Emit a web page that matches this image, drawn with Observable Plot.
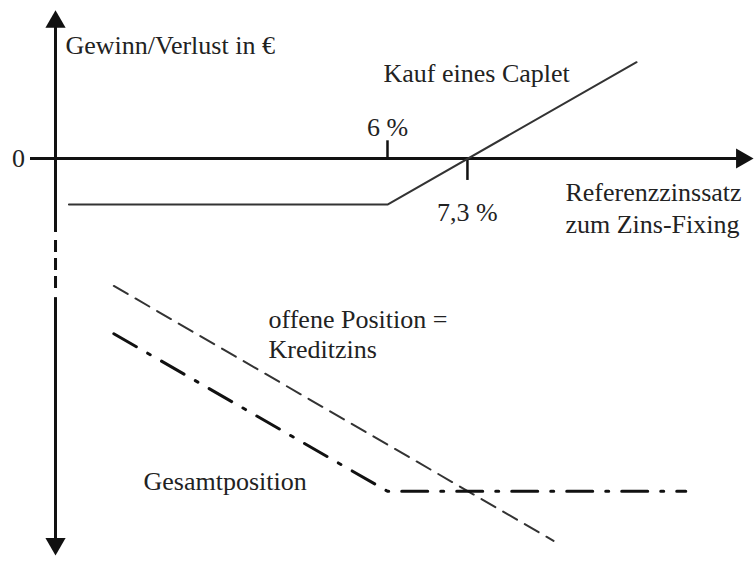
<!DOCTYPE html>
<html>
<head>
<meta charset="utf-8">
<script src="https://cdn.jsdelivr.net/npm/d3@7"></script>
<script src="https://cdn.jsdelivr.net/npm/@observablehq/plot@0.6"></script>
<style>
  html, body { margin: 0; padding: 0; background: #fff; }
</style>
</head>
<body>
<div id="chart"></div>
<script>
// ---- Data (rate in %, value in schematic € units) ----
const capletRates = [0.82, 6, 10.05];
const capletValues = [-1.3, -1.3, 2.72];

const openRates = [1.55, 8.7];
const openValues = [-3.6, -10.8];

const totalRates = [1.55, 6, 10.85];
const totalValues = [-4.95, -9.4, -9.4];

const strikeRate = 6;        // "6 %"
const breakEvenRate = 7.3;   // "7,3 %"
const tickLabels = ["6 %", "7,3 %"];

// axis extents and break
const xAxisRange = [0.195, 11.95];
const yAxisRange = [4.18, -11.21];
const yAxisX = 0.602;
const axisBreak = [-2.09, -3.93];

const caplet = capletRates.map((r, i) => ({r, v: capletValues[i]}));
const openPos = openRates.map((r, i) => ({r, v: openValues[i]}));
const total = totalRates.map((r, i) => ({r, v: totalValues[i]}));

const font = "'Liberation Serif', 'Times New Roman', serif";
const fs = 26;
const ink = "#222";

const chart = Plot.plot({
  width: 755,
  height: 566,
  margin: 0,
  style: {fontFamily: font, fontSize: fs + "px", background: "#fff"},
  x: {domain: [-0.2927, 11.984], axis: null},
  y: {domain: [-11.525, 4.463], axis: null},
  marks: [
    // horizontal axis
    Plot.ruleY([0], {x1: xAxisRange[0], x2: xAxisRange[1] - 0.12, stroke: "#111", strokeWidth: 3}),
    Plot.dot([{r: xAxisRange[1], v: 0}], {x: "r", y: "v", symbol: "triangle", r: 7.5, rotate: 90, dx: -11.5, fill: "#111", stroke: "none"}),
    // vertical axis (solid - break - solid)
    Plot.ruleX([yAxisX], {y1: yAxisRange[0] - 0.3, y2: axisBreak[0], stroke: "#111", strokeWidth: 3}),
    Plot.ruleX([yAxisX], {y1: axisBreak[0], y2: axisBreak[1], stroke: "#111", strokeWidth: 3, strokeDasharray: "0 8 12 6 12 6 12 9"}),
    Plot.ruleX([yAxisX], {y1: axisBreak[1], y2: yAxisRange[1] + 0.3, stroke: "#111", strokeWidth: 3}),
    Plot.dot([{r: yAxisX, v: yAxisRange[0]}], {x: "r", y: "v", symbol: "triangle", r: 7.5, rotate: 0, dy: 11.5, fill: "#111", stroke: "none"}),
    Plot.dot([{r: yAxisX, v: yAxisRange[1]}], {x: "r", y: "v", symbol: "triangle", r: 7.5, rotate: 180, dy: -11.5, fill: "#111", stroke: "none"}),
    // ticks
    Plot.ruleX([strikeRate], {y1: 0, y2: 0.5, stroke: "#111", strokeWidth: 2.5}),
    Plot.ruleX([breakEvenRate], {y1: 0, y2: -0.62, stroke: "#111", strokeWidth: 2.5}),
    // lines
    Plot.line(caplet, {x: "r", y: "v", stroke: "#333", strokeWidth: 2}),
    Plot.line(openPos, {x: "r", y: "v", stroke: "#333", strokeWidth: 2, strokeDasharray: "16 9"}),
    Plot.line(total, {x: "r", y: "v", stroke: "#111", strokeWidth: 3, strokeDasharray: "26 13 3 13"}),
    // texts
    Plot.text(["Gewinn/Verlust in €"], {x: 0.764, y: 3.19, textAnchor: "start", fontSize: fs, fill: ink}),
    Plot.text(["0"], {x: 0.0, y: 0, textAnchor: "middle", fontSize: fs, fill: ink}),
    Plot.text(["Kauf eines Caplet"], {x: 5.935, y: 2.40, textAnchor: "start", fontSize: fs, fill: ink}),
    Plot.text([tickLabels[0]], {x: strikeRate, y: 0, dy: -31, textAnchor: "middle", fontSize: fs, fill: ink}),
    Plot.text([tickLabels[1]], {x: breakEvenRate, y: 0, dy: 54, textAnchor: "middle", fontSize: fs, fill: ink}),
    Plot.text(["Referenzzinssatz\nzum Zins-Fixing"], {x: 8.894, y: -1.356, textAnchor: "start", lineHeight: 1.23, fontSize: fs, fill: ink}),
    Plot.text(["offene Position =\nKreditzins"], {x: 4.065, y: -4.94, textAnchor: "start", lineHeight: 1.15, fontSize: fs, fill: ink}),
    Plot.text(["Gesamtposition"], {x: 2.033, y: -9.12, textAnchor: "start", fontSize: fs, fill: ink})
  ]
});
document.getElementById("chart").appendChild(chart);
</script>
</body>
</html>
